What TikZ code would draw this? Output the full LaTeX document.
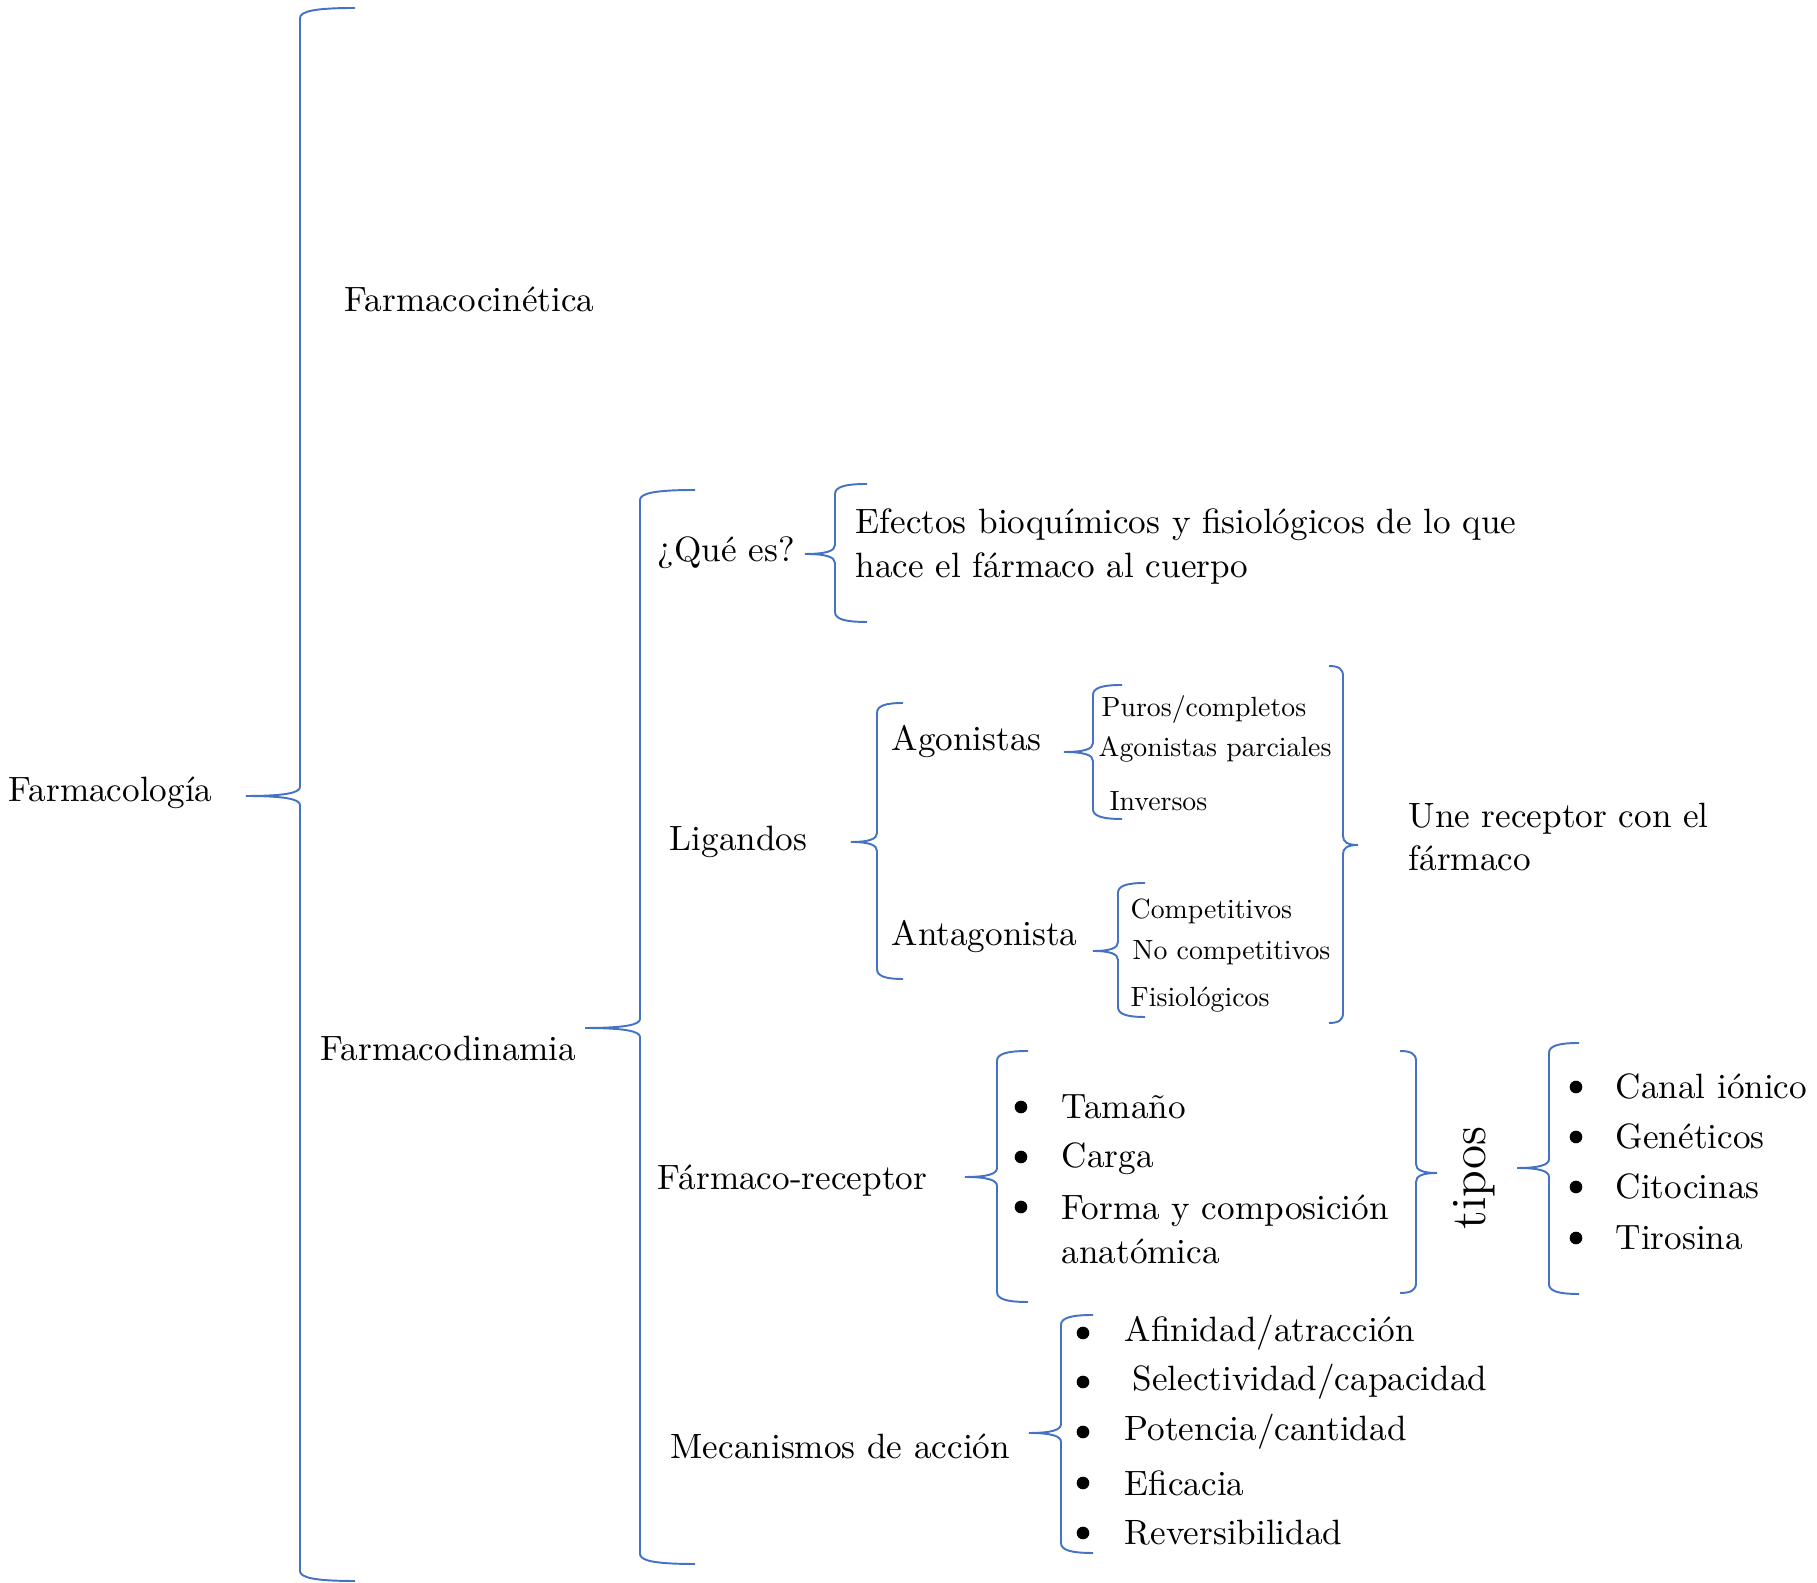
\documentclass[tikz,border=0pt]{standalone}
\usepackage{fontspec}
\usepackage{tikz}
\newfontfamily\chicofont{lmroman10-regular.otf}
\definecolor{azulllave}{HTML}{4472C4}
\newcommand{\llave}[6]{%
  \path[draw,llave] (#4,#2) .. controls ({#1+(#4-#1)*0.3},#2) and (#1,#2+3) .. (#1,#2+10)
    -- (#1,#6-9) .. controls (#1,#6-3) and ({#1+(#5-#1)*0.3},#6) .. (#5,#6)
    .. controls ({#1+(#5-#1)*0.3},#6) and (#1,#6+3) .. (#1,#6+9)
    -- (#1,#3-10) .. controls (#1,#3-3) and ({#1+(#4-#1)*0.3},#3) .. (#4,#3);}

\begin{document}
\begin{tikzpicture}[x=0.01cm,y=-0.01cm,
    llave/.style={draw=azulllave,line width=0.55pt},
    texto/.style={anchor=west,inner sep=0pt,align=left,font=\fontsize{10}{12.5}\selectfont},
    chico/.style={texto,font=\chicofont\fontsize{7.9}{9}\selectfont},
    punto/.style={circle,fill=black,inner sep=0pt,minimum size=3.6pt}]
        \useasboundingbox (0,0) rectangle (1817,1583);

        \llave{300}{8}{1581}{355}{246}{796}
        \llave{640}{490}{1564}{695}{585}{1028}
        \llave{835}{484}{622}{867}{805}{554}
        \llave{877}{703}{979}{903}{851}{842}
        \llave{1093}{685}{819}{1122}{1064}{752}
        \llave{1118}{883}{1017}{1145}{1093}{951}
        \llave{1343}{666}{1023}{1329}{1358}{845}
        \llave{997}{1051}{1302}{1028}{965}{1177}
        \llave{1416}{1051}{1293}{1400}{1437}{1173}
        \llave{1549}{1043}{1294}{1579}{1517}{1168}
        \llave{1061}{1315}{1553}{1093}{1029}{1433}

        \node[texto] (farmacologia) at (8,793) {Farmacología};
        \node[texto] (cinetica) at (344,299) {Farmacocinética};
        \node[texto] (dinamia) at (320,1049) {Farmacodinamia};
        \node[texto] (quees) at (657,553) {¿Qué es?};
        \node[texto] (efectos) at (855,547) {Efectos bioquímicos y fisiológicos de lo que\\hace el fármaco al cuerpo};
        \node[texto] (ligandos) at (669,842) {Ligandos};
        \node[texto] (agonistas) at (891,742) {Agonistas};
        \node[texto] (antagonista) at (891,937) {Antagonista};
        \node[chico] (puros) at (1101,710) {Puros/completos};
        \node[chico] (parciales) at (1098,749) {Agonistas parciales};
        \node[chico] (inversos) at (1109,801) {Inversos};
        \node[chico] (competitivos) at (1130,911) {Competitivos};
        \node[chico] (nocompetitivos) at (1132,953) {No competitivos};
        \node[chico] (fisiologicos) at (1130,1000) {Fisiológicos};
        \node[texto] (une) at (1408,837) {Une receptor con el\\fármaco};
        \node[texto] (receptor) at (657,1181) {Fármaco-receptor};
        \node[texto,rotate=90,anchor=center,font=\fontsize{14}{16}\selectfont] (tipos) at (1474,1178) {tipos};
        \node[texto] (mecanismos) at (670,1446) {Mecanismos de acción};

        \node[punto] (pt1) at (1021,1107) {};
        \node[punto] (pt2) at (1021,1157) {};
        \node[punto] (pt3) at (1021,1207) {};
        \node[texto] (tamano) at (1061,1107) {Tamaño};
        \node[texto] (carga) at (1061,1159) {Carga};
        \node[texto] (forma) at (1061,1229) {Forma y composición\\anatómica};

        \node[punto] (pc1) at (1576,1087) {};
        \node[punto] (pc2) at (1576,1137) {};
        \node[punto] (pc3) at (1576,1187) {};
        \node[punto] (pc4) at (1576,1238) {};
        \node[texto] (canal) at (1615,1087) {Canal iónico};
        \node[texto] (geneticos) at (1615,1137) {Genéticos};
        \node[texto] (citocinas) at (1615,1187) {Citocinas};
        \node[texto] (tirosina) at (1615,1238) {Tirosina};

        \node[punto] (pm1) at (1083,1333) {};
        \node[punto] (pm2) at (1083,1382) {};
        \node[punto] (pm3) at (1083,1432) {};
        \node[punto] (pm4) at (1083,1483) {};
        \node[punto] (pm5) at (1083,1533) {};
        \node[texto] (afinidad) at (1124,1333) {Afinidad/atracción};
        \node[texto] (selectividad) at (1132,1382) {Selectividad/capacidad};
        \node[texto] (potencia) at (1124,1432) {Potencia/cantidad};
        \node[texto] (eficacia) at (1124,1483) {Eficacia};
        \node[texto] (reversibilidad) at (1124,1533) {Reversibilidad};
      \end{tikzpicture}
\end{document}
